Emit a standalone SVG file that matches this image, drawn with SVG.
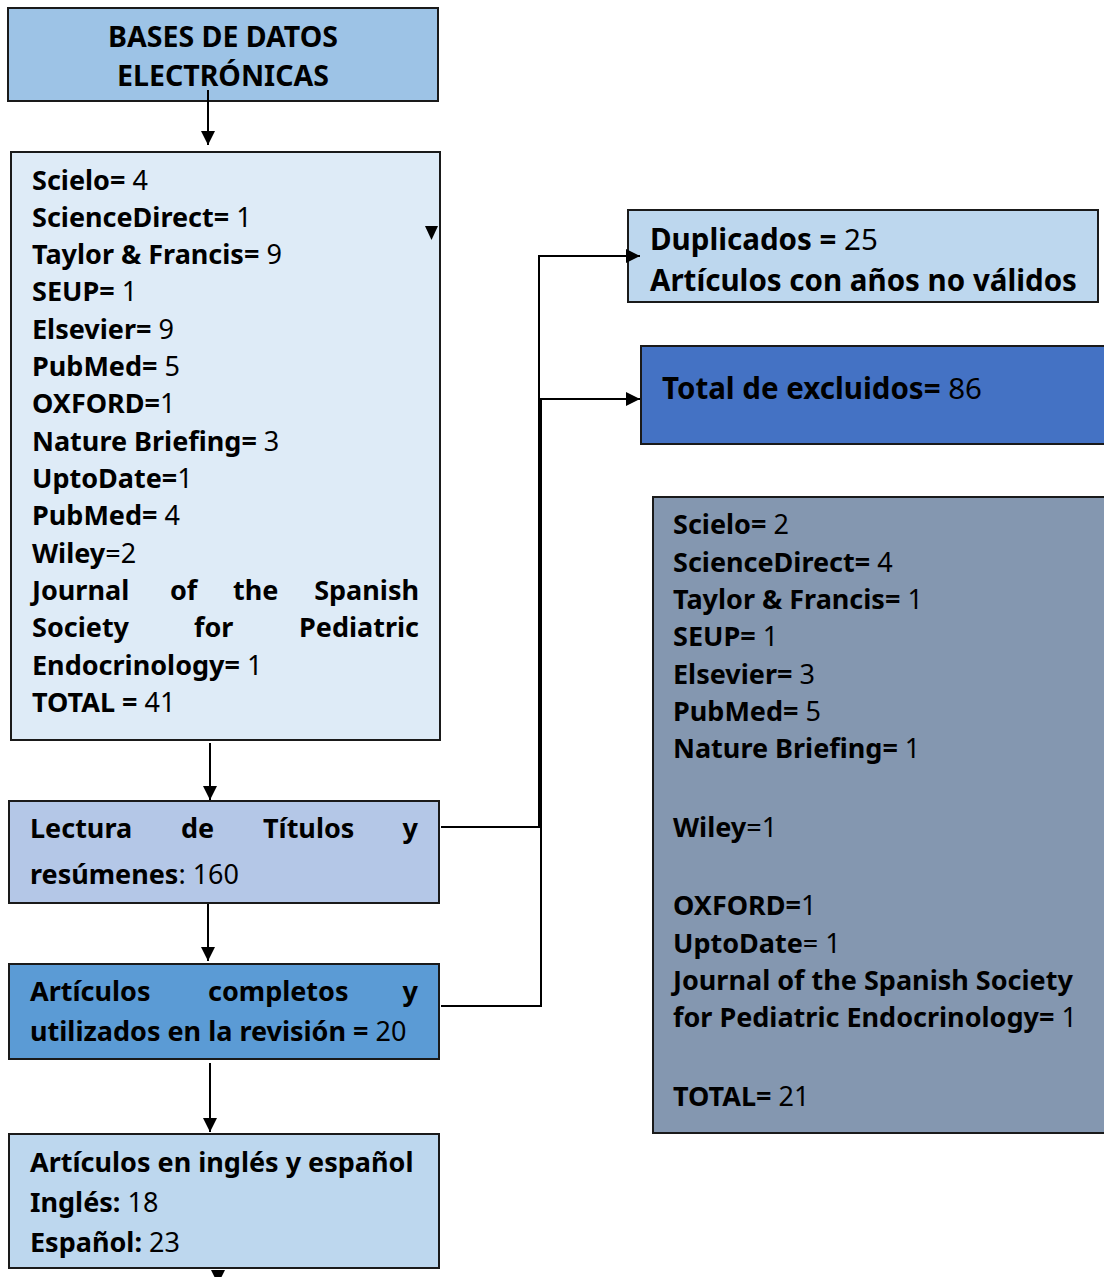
<svg xmlns="http://www.w3.org/2000/svg" width="1104" height="1277" viewBox="0 0 1104 1277">
<style>
text{font-family:"Noto Sans","Open Sans","Liberation Sans",sans-serif;font-size:27px;fill:#000}
.b{font-weight:bold}
.big{font-size:29.5px}
.ttl{font-size:28.5px}
.box{stroke:#1a1a1a;stroke-width:2}
.ln{stroke:#000;stroke-width:2;fill:none}
</style>
<defs>
<marker id="ah" viewBox="0 0 10 10" refX="10" refY="5" markerWidth="14" markerHeight="14" markerUnits="userSpaceOnUse" orient="auto">
<path d="M0,0 L10,5 L0,10 Z" fill="#000"/>
</marker>
</defs>
<rect width="1104" height="1277" fill="#fff"/>
<g id="n-bases">
<rect class="box" x="8" y="8" width="430" height="93" fill="#9DC3E6"/>
<text class="b ttl" x="223" y="47" text-anchor="middle">BASES DE DATOS</text>
<text class="b ttl" x="223" y="86" text-anchor="middle">ELECTRÓNICAS</text>
</g>
<g id="n-fuentes">
<rect class="box" x="11" y="152" width="429" height="588" fill="#DEEBF7"/>
<text x="32" y="190"><tspan class="b">Scielo=</tspan> 4</text>
<text x="32" y="227"><tspan class="b">ScienceDirect=</tspan> 1</text>
<text x="32" y="264"><tspan class="b">Taylor &amp; Francis=</tspan> 9</text>
<text x="32" y="301"><tspan class="b">SEUP=</tspan> 1</text>
<text x="32" y="339"><tspan class="b">Elsevier=</tspan> 9</text>
<text x="32" y="376"><tspan class="b">PubMed=</tspan> 5</text>
<text x="32" y="413"><tspan class="b">OXFORD=</tspan>1</text>
<text x="32" y="451"><tspan class="b">Nature Briefing=</tspan> 3</text>
<text x="32" y="488"><tspan class="b">UptoDate=</tspan>1</text>
<text x="32" y="525"><tspan class="b">PubMed=</tspan> 4</text>
<text x="32" y="563"><tspan class="b">Wiley</tspan>=2</text>
<text class="b" x="32" y="600">Journal</text>
<text class="b" x="170" y="600">of</text>
<text class="b" x="233" y="600">the</text>
<text class="b" x="419" y="600" text-anchor="end">Spanish</text>
<text class="b" x="32" y="637">Society</text>
<text class="b" x="194" y="637">for</text>
<text class="b" x="419" y="637" text-anchor="end">Pediatric</text>
<text x="32" y="675"><tspan class="b">Endocrinology=</tspan> 1</text>
<text x="32" y="712"><tspan class="b">TOTAL =</tspan> 41</text>
</g>
<g id="n-lectura">
<rect class="box" x="9" y="801" width="430" height="102" fill="#B4C7E7"/>
<text class="b" x="30" y="838">Lectura</text>
<text class="b" x="181" y="838">de</text>
<text class="b" x="263" y="838">Títulos</text>
<text class="b" x="418" y="838" text-anchor="end">y</text>
<text x="30" y="884"><tspan class="b">resúmenes</tspan>: 160</text>
</g>
<g id="n-completos">
<rect class="box" x="9" y="964" width="430" height="95" fill="#5B9BD5"/>
<text class="b" x="30" y="1001">Artículos</text>
<text class="b" x="208" y="1001">completos</text>
<text class="b" x="418" y="1001" text-anchor="end">y</text>
<text x="30" y="1041"><tspan class="b">utilizados en la revisión =</tspan> 20</text>
</g>
<g id="n-idiomas">
<rect class="box" x="9" y="1134" width="430" height="134" fill="#BDD7EE"/>
<text class="b" x="30" y="1172">Artículos en inglés y español</text>
<text x="30" y="1212"><tspan class="b">Inglés:</tspan> 18</text>
<text x="30" y="1252"><tspan class="b">Español:</tspan> 23</text>
</g>
<g id="n-duplicados">
<rect class="box" x="628" y="210" width="470" height="92" fill="#BDD7EE"/>
<text class="big" x="650" y="250"><tspan class="b">Duplicados =</tspan> 25</text>
<text class="b big" x="650" y="291">Artículos con años no válidos</text>
</g>
<g id="n-excluidos">
<rect class="box" x="641" y="346" width="470" height="98" fill="#4472C4"/>
<text class="big" x="662" y="399"><tspan class="b">Total de excluidos=</tspan> 86</text>
</g>
<g id="n-detalle">
<rect class="box" x="653" y="497" width="460" height="636" fill="#8497B0"/>
<text x="673" y="534"><tspan class="b">Scielo=</tspan> 2</text>
<text x="673" y="572"><tspan class="b">ScienceDirect=</tspan> 4</text>
<text x="673" y="609"><tspan class="b">Taylor &amp; Francis=</tspan> 1</text>
<text x="673" y="646"><tspan class="b">SEUP=</tspan> 1</text>
<text x="673" y="684"><tspan class="b">Elsevier=</tspan> 3</text>
<text x="673" y="721"><tspan class="b">PubMed=</tspan> 5</text>
<text x="673" y="758"><tspan class="b">Nature Briefing=</tspan> 1</text>
<text x="673" y="837"><tspan class="b">Wiley</tspan>=1</text>
<text x="673" y="915"><tspan class="b">OXFORD=</tspan>1</text>
<text x="673" y="953"><tspan class="b">UptoDate</tspan>= 1</text>
<text class="b" x="673" y="990">Journal of the Spanish Society</text>
<text x="673" y="1027"><tspan class="b">for Pediatric Endocrinology=</tspan> 1</text>
<text x="673" y="1106"><tspan class="b">TOTAL=</tspan> 21</text>
</g>
<g id="connectors">
<line class="ln" x1="208" y1="90" x2="208" y2="145" marker-end="url(#ah)"/>
<path d="M425,226 L438,226 L431.5,240 Z" fill="#000"/>
<line class="ln" x1="210" y1="743" x2="210" y2="800" marker-end="url(#ah)"/>
<line class="ln" x1="208" y1="904" x2="208" y2="961" marker-end="url(#ah)"/>
<line class="ln" x1="210" y1="1063" x2="210" y2="1132" marker-end="url(#ah)"/>
<path d="M211,1270 L225,1270 L218,1284 Z" fill="#000"/>
<path class="ln" d="M441,827 H539 V256 H640" marker-end="url(#ah)"/>
<path class="ln" d="M441,1006 H541 V399 H640" marker-end="url(#ah)"/>
</g>
</svg>
